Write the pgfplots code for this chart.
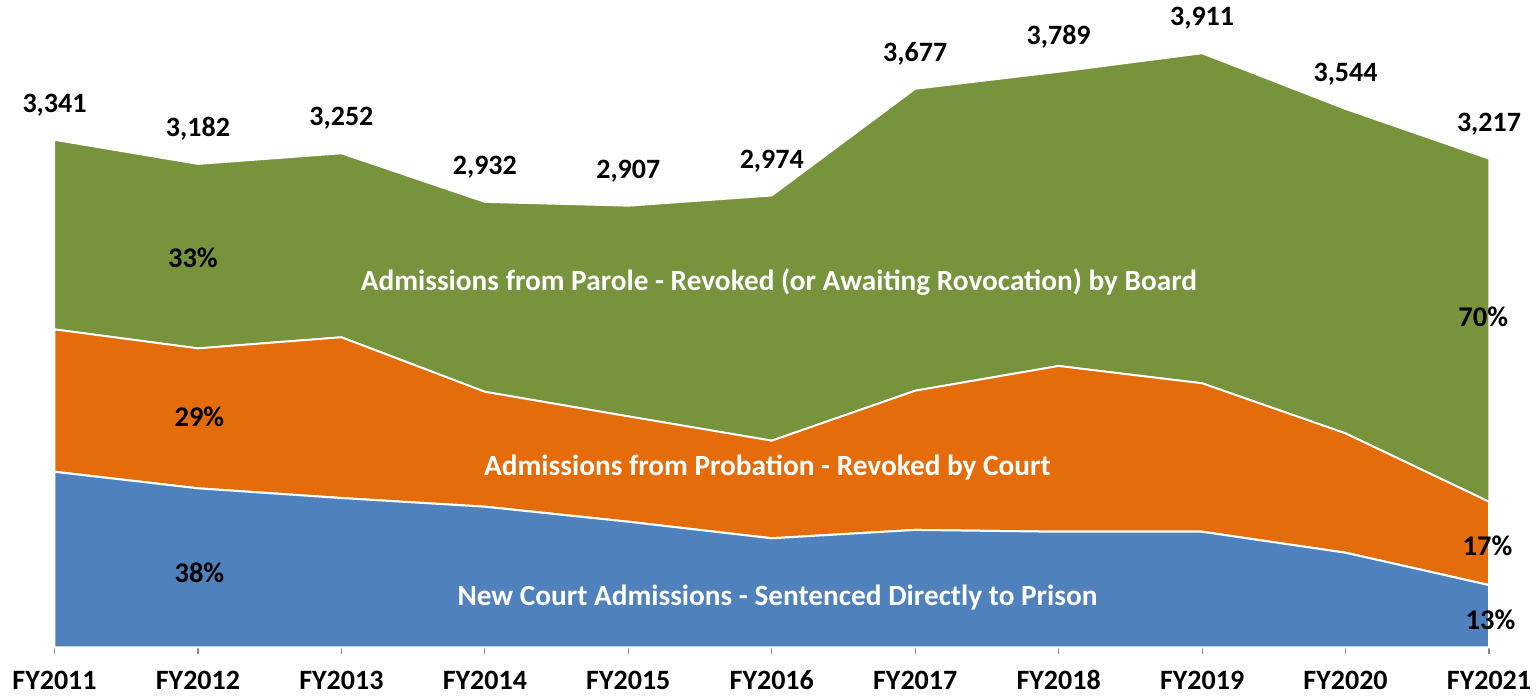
\documentclass[border=0pt]{standalone}
\usepackage{pgfplots}
\usepackage{pgfplotstable}
\pgfplotsset{compat=1.18}
\usepackage{fontspec}
\setmainfont{Carlito}
\definecolor{cblue}{HTML}{4F81BD}
\definecolor{corange}{HTML}{E46C0A}
\definecolor{cgreen}{HTML}{77933C}
\definecolor{caxis}{HTML}{898989}
\pgfplotstableread{
x blue orange green lab
0 1156 938 1247 3,341
1 1047 922 1213 3,182
2 983 1059 1210 3,252
3 926 757 1249 2,932
4 827 694 1386 2,907
5 718 643 1613 2,974
6 773 917 1987 3,677
7 761 1092 1936 3,789
8 761 978 2172 3,911
9 623 786 2135 3,544
10 410 549 2258 3,217
}\data
\newcommand{\serf}{\fontsize{29.3}{32}\selectfont\bfseries}
\newcommand{\pctf}{\fontsize{28.5}{32}\selectfont\bfseries}
\newcommand{\tckf}{\fontsize{28}{32}\selectfont\bfseries}
\begin{document}
\begin{tikzpicture}
\useasboundingbox (-54.5pt,-48.7pt) rectangle (1482.5pt,647.3pt);
\begin{axis}[
  at={(0,0)}, anchor=south west,
  scale only axis, width=1434.5pt, height=647.3pt,
  xmin=0, xmax=10, ymin=0, ymax=4263,
  stack plots=y,
  axis x line*=bottom, axis y line=none,
  x axis line style={caxis, line width=1.2pt},
  xtick={0,...,10},
  xticklabels={FY2011,FY2012,FY2013,FY2014,FY2015,FY2016,FY2017,FY2018,FY2019,FY2020,FY2021},
  tick align=outside, major tick length=7pt,
  tick style={caxis, line width=1.2pt},
  xticklabel style={font=\tckf, text=black, text height=20pt, text depth=0pt, yshift=-12pt},
  clip=false,
]
\addplot[fill=cblue, draw=white, line width=2pt] table[x=x, y=blue] {\data} \closedcycle;
\addplot[fill=corange, draw=white, line width=2pt] table[x=x, y=orange] {\data} \closedcycle;
\addplot[fill=cgreen, draw=white, line width=1.5pt,
  nodes near coords, point meta=explicit symbolic,
  nodes near coords style={font=\tckf, text=black, anchor=center, yshift=35pt}]
  table[x=x, y=green, meta=lab] {\data} \closedcycle;
\coordinate (Lg) at (axis cs:5.05,2406);
\coordinate (Lo) at (axis cs:4.97,1187);
\coordinate (Lb) at (axis cs:5.04,325);
\coordinate (P1) at (axis cs:0.965,2564);
\coordinate (P2) at (axis cs:1.01,1517);
\coordinate (P3) at (axis cs:1.01,489);
\coordinate (P4) at (axis cs:9.96,2175);
\coordinate (P5) at (axis cs:9.99,667);
\coordinate (P6) at (axis cs:10.01,180);
\end{axis}
\node[font=\serf, text=white] at (Lg) {Admissions from Parole - Revoked (or Awaiting Rovocation) by Board};
\node[font=\serf, text=white] at (Lo) {Admissions from Probation - Revoked by Court};
\node[font=\serf, text=white] at (Lb) {New Court Admissions - Sentenced Directly to Prison};
\node[font=\pctf] at (P1) {33\%};
\node[font=\pctf] at (P2) {29\%};
\node[font=\pctf] at (P3) {38\%};
\node[font=\pctf] at (P4) {70\%};
\node[font=\pctf] at (P5) {17\%};
\node[font=\pctf] at (P6) {13\%};
\end{tikzpicture}
\end{document}
